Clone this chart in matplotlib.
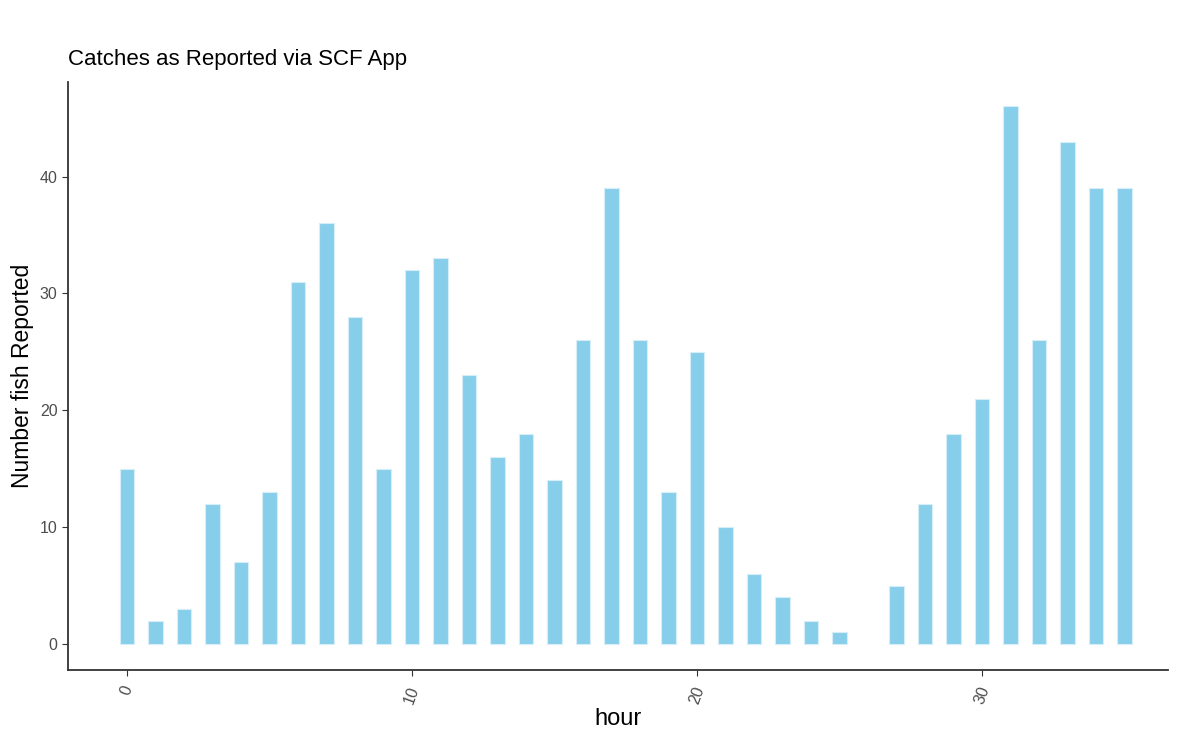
import matplotlib.pyplot as plt

# catches per hour (hour 26 has no bar)
hours = [0, 1, 2, 3, 4, 5, 6, 7, 8, 9, 10, 11, 12, 13, 14, 15, 16, 17,
         18, 19, 20, 21, 22, 23, 24, 25, 27, 28, 29, 30, 31, 32, 33, 34, 35]
fish = [15, 2, 3, 12, 7, 13, 31, 36, 28, 15, 32, 33, 23, 16, 18, 14, 26, 39,
        26, 13, 25, 10, 6, 4, 2, 1, 5, 12, 18, 21, 46, 26, 43, 39, 39]

plt.rcParams['font.family'] = ['Liberation Sans', 'DejaVu Sans']
fig = plt.figure(figsize=(11.91, 7.45), dpi=100)
ax = fig.add_axes([0.0571, 0.1007, 0.9236, 0.7893])

ax.bar(hours, fish, width=0.5, color='#87CEEB', edgecolor='#D6EEF8', linewidth=0.8)

ax.set_xlim(-2.07, 36.53)
ax.set_ylim(-2.23, 48.1)
ax.set_xticks([0, 10, 20, 30])
ax.set_yticks([0, 10, 20, 30, 40])
for s in ['top', 'right']:
    ax.spines[s].set_visible(False)
for s in ['left', 'bottom']:
    ax.spines[s].set_color('#333333')
    ax.spines[s].set_linewidth(1.3)
ax.tick_params(axis='both', colors='#333333', labelcolor='#4D4D4D', labelsize=11.5, length=4)
ax.tick_params(axis='x', pad=6)
plt.setp(ax.get_xticklabels(), rotation=70)

ax.set_title('Catches as Reported via SCF App', loc='left', fontsize=16, pad=12)
ax.set_xlabel('hour', fontsize=17, labelpad=2)
ax.set_ylabel('Number fish Reported', fontsize=16.5)

fig.savefig('out.png', dpi=100)
